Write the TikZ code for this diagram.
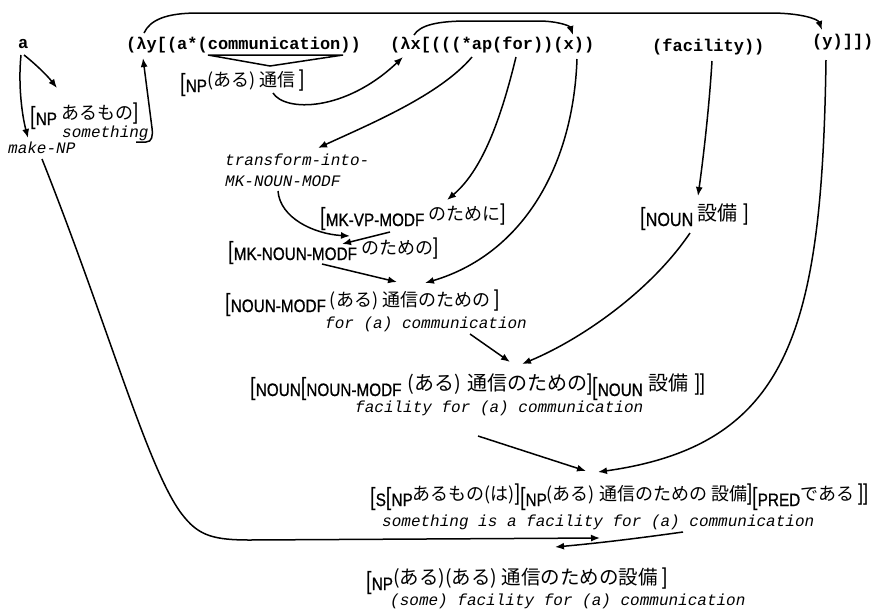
\documentclass[tikz,border=0pt]{standalone}
\usepackage{fontspec}
\usetikzlibrary{arrows.meta}
\newfontfamily\monof{Liberation Mono}
\newfontfamily\jpf{Noto Sans CJK JP}
\newfontfamily\labf[FakeStretch=0.85,FakeBold=0.8]{Liberation Sans}
\newfontfamily\brf[FakeStretch=0.8]{Liberation Sans}
\newcommand\Lb{\raisebox{-5pt}{\brf\fontsize{25}{25}\selectfont[}}
\newcommand\Rb{{\brf\fontsize{23}{23}\selectfont]}}
\newcommand\Sb[2][18]{\raisebox{-6pt}{\labf\fontsize{#1}{#1}\selectfont #2}}
\newcommand\J[2][18]{{\jpf\fontsize{#1}{#1}\selectfont #2}}
\newcommand\Gap[1]{\hspace*{#1pt}}
\tikzset{
  mono/.style={font=\monof\bfseries\fontsize{17}{17}\selectfont, inner sep=0pt, anchor=base west},
  ital/.style={font=\monof\itshape\fontsize{16}{16}\selectfont, inner sep=0pt, anchor=base west},
  lab/.style={inner sep=0pt, anchor=base west},
  arr/.style={line width=1.5pt, -{Latex[length=9pt,width=7pt]}},
  ln/.style={line width=1.5pt},
}
\begin{document}
\begin{tikzpicture}[x=1pt,y=-1pt]
\useasboundingbox (0,0) rectangle (892,614);
% ---- text nodes
\node[mono] (a) at (18,48) {a};
\node[mono] (t1) at (126,49) {(λy[(a*(communication))};
\node[mono] (t2) at (390,49) {(λx[(((*ap(for))(x))};
\node[mono] (t3) at (652,51) {(facility))};
\node[mono] (t4) at (812,46) {(y)]])};
\node[lab] (np1) at (180,86) {\Lb\Sb{NP}\J{(ある) 通信 }\Rb};
\node[lab] (np2) at (30,119) {\Lb\Sb{NP}\J{ あるもの}\Rb};
\node[ital] (sth) at (62,137) {something};
\node[ital] (mknp) at (8,153) {make-NP};
\node[ital] (tr1) at (225,165) {transform-into-};
\node[ital] (tr2) at (225,186) {MK-NOUN-MODF};
\node[lab] (vp) at (320,220) {\Lb\Sb{MK-VP-MODF}\Gap{4}\J{のために}\Rb};
\node[lab] (nm) at (228,254) {\Lb\Sb{MK-NOUN-MODF}\J{ のための}\Rb};
\node[lab] (nn) at (640,220) {\Lb\Sb[19]{NOUN}\Gap{4}\J[20]{設備}\Gap{6}\Rb};
\node[lab] (mod) at (225,306) {\Lb\Sb{NOUN-MODF}\J{ (ある) 通信のための }\Rb};
\node[ital] (mode) at (325,328) {for (a) communication};
\node[lab] (noun) at (250,390) {\Lb\Sb{NOUN}\Lb\Sb{NOUN-MODF}\Gap{6}\J[20]{(ある)\Gap{6}通信のための}\Rb\Lb\Sb{NOUN}\Gap{6}\J[20]{設備}\Gap{6}\Rb\Rb};
\node[ital] (noune) at (355,412) {facility for (a) communication};
\node[lab] (s) at (370,500) {\Lb\Sb{S}\Lb\Sb{NP}\J{あるもの(は)}\Rb\Lb\Sb{NP}\J{(ある) 通信のための 設備}\Rb\Lb\Sb{PRED}\J{である }\Rb\Rb};
\node[ital] (se) at (382,526) {something is a facility for (a) communication};
\node[lab] (fin) at (366,584) {\Lb\Sb{NP}\J[19.5]{(ある)(ある) 通信のための設備 }\Rb};
\node[ital] (fine) at (390,605) {(some) facility for (a) communication};
% ---- attachment points
\coordinate (u1) at (208,55); \coordinate (u2) at (343,55); \coordinate (vt) at (270,66);
\coordinate (ly) at (144,33); \coordinate (yy) at (822,30);
\coordinate (lx) at (414,35); \coordinate (xx) at (573,35);
\coordinate (np1o) at (273,93); \coordinate (lxb) at (403,57);
\coordinate (apb) at (472,57); \coordinate (tri) at (318,148);
\coordinate (forb) at (516,57); \coordinate (vpi) at (447,200);
\coordinate (xb) at (577,59); \coordinate (modi) at (425,283);
\coordinate (facb) at (712,61); \coordinate (nni) at (698,196);
\coordinate (yb) at (826,60); \coordinate (si) at (598,472);
\coordinate (ab1) at (24,55); \coordinate (np2i) at (57,88);
\coordinate (ab2) at (21,55); \coordinate (mknpi) at (28,138);
\coordinate (stho) at (136,142); \coordinate (lyb) at (143,58);
\coordinate (mknpo) at (42,159); \coordinate (fini) at (600,538);
\coordinate (seo) at (683,532); \coordinate (fini2) at (555,547);
\coordinate (nmo) at (322,264); \coordinate (modi2) at (397,282);
\coordinate (tr2o) at (278,191); \coordinate (vpo1) at (350,236);
\coordinate (vpo) at (390,232); \coordinate (nmi) at (342,244);
\coordinate (modeo) at (470,334); \coordinate (nouni) at (510,362);
\coordinate (nno) at (690,233); \coordinate (nouni2) at (522,364);
\coordinate (nouneo) at (478,436); \coordinate (si2) at (586,471);
% ---- connectors
\draw[ln] (u1) -- (u2) -- (vt) -- cycle;
\draw[arr] (ly) .. controls (150,20) and (166,13) .. (198,13) -- (770,13) .. controls (801,13) and (818,19) .. (yy);
\draw[arr] (lx) .. controls (420,25) and (438,21) .. (468,21) -- (538,21) .. controls (558,21) and (570,26) .. (xx);
\draw[arr] (np1o) .. controls (285,112) and (345,112) .. (lxb);
\draw[arr] (apb) .. controls (440,95) and (370,124) .. (tri);
\draw[arr] (forb) .. controls (503,110) and (485,168) .. (vpi);
\draw[arr] (xb) .. controls (573,170) and (520,255) .. (modi);
\draw[arr] (facb) .. controls (709,110) and (703,160) .. (nni);
\draw[arr] (yb) .. controls (822,330) and (790,445) .. (si);
\draw[arr] (ab1) .. controls (33,62) and (46,74) .. (np2i);
\draw[arr] (ab2) .. controls (18,85) and (22,115) .. (mknpi);
\draw[arr] (stho) -- (146,142) .. controls (152,142) and (153,136) .. (152,128) -- (lyb);
\draw[arr] (mknpo) .. controls (110,330) and (150,478) .. (185,518) .. controls (200,536) and (215,540) .. (250,540) -- (fini);
\draw[arr] (seo) .. controls (640,538) and (600,543) .. (fini2);
\draw[arr] (nmo) -- (modi2);
\draw[arr] (tr2o) .. controls (280,218) and (314,234) .. (vpo1);
\draw[arr] (vpo) -- (nmi);
\draw[arr] (modeo) -- (nouni);
\draw[arr] (nno) .. controls (650,292) and (580,340) .. (nouni2);
\draw[arr] (nouneo) -- (si2);
\end{tikzpicture}
\end{document}
